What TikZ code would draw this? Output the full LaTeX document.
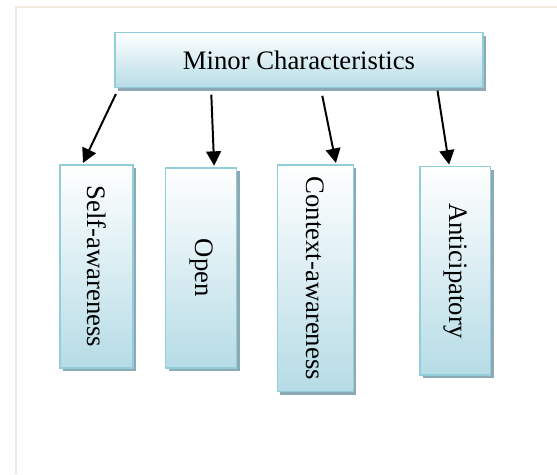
\documentclass[tikz,border=0pt]{standalone}
\usepackage{fontspec}
\setmainfont{Liberation Serif}
\usepackage{graphicx}
\usepackage{xcolor}
\usepackage{tikz}
\usetikzlibrary{arrows.meta,shadows}

\definecolor{boxedge}{HTML}{92CDDC}
\definecolor{boxfill}{HTML}{B6DCE6}
\definecolor{boxshade}{HTML}{8DA9B3}
\definecolor{framecol}{HTML}{EFEBE1}

\begin{document}
\begin{tikzpicture}[
  charbox/.style={draw=boxedge, line width=1pt, top color=white, bottom color=boxfill,
    drop shadow={shadow xshift=0.075cm, shadow yshift=-0.075cm, fill=boxshade, opacity=1},
    inner sep=0pt, font=\fontsize{19}{22}\selectfont},
  link/.style={-{Triangle[length=0.36cm,width=0.37cm]}, line width=1.4pt, shorten >=1pt}]
\useasboundingbox (0,0) rectangle (13.925,11.85);
\draw[framecol, line width=1pt] (0.4,0) -- (0.4,11.68) -- (13.925,11.68);
\node[charbox, minimum width=9.2cm, minimum height=1.375cm] (mc) at (7.475,10.35) {Minor Characteristics};
\node[charbox, minimum width=1.825cm, minimum height=5.075cm] (self) at (2.41,5.19) {\rotatebox{-90}{Self-awareness}};
\node[charbox, minimum width=1.775cm, minimum height=5.0cm] (open) at (5.03,5.154) {\rotatebox{-90}{Open}};
\node[charbox, minimum width=1.9cm, minimum height=5.667cm] (ctx) at (7.883,4.891) {\rotatebox{-90}{Context-awareness}};
\node[charbox, minimum width=1.767cm, minimum height=5.208cm] (ant) at (11.384,5.079) {\rotatebox{-90}{Anticipatory}};
\draw[link] ([xshift=0.04cm,yshift=-0.145cm]mc.south west) -- ([xshift=0.58cm]self.north west);
\draw[link] ([xshift=2.425cm,yshift=-0.16cm]mc.south west) -- ([xshift=1.23cm]open.north west);
\draw[link] ([xshift=5.2cm,yshift=-0.19cm]mc.south west) -- ([xshift=1.49cm]ctx.north west);
\draw[link] ([xshift=8.08cm,yshift=-0.06cm]mc.south west) -- ([xshift=0.75cm]ant.north west);
\end{tikzpicture}
\end{document}
